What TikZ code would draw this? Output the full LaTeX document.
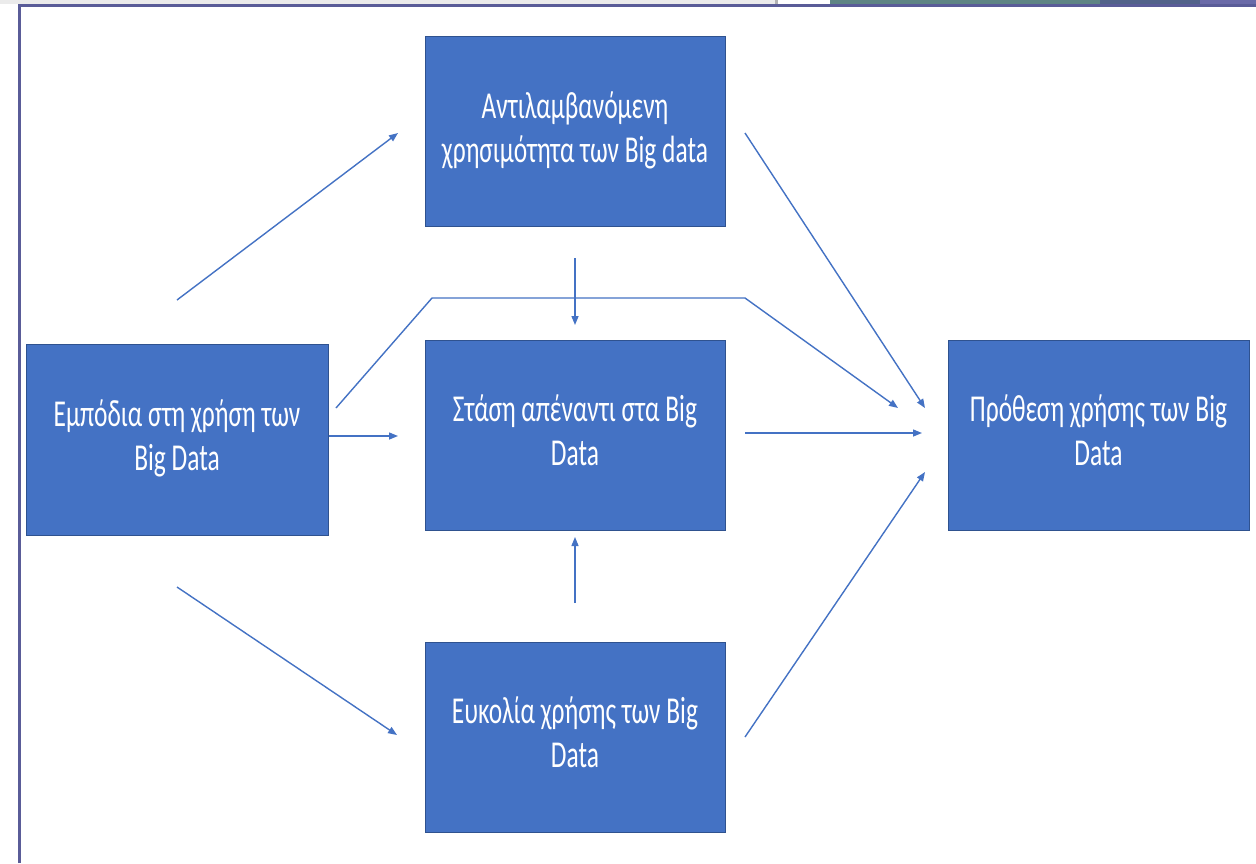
\documentclass[tikz,border=0pt]{standalone}
\usepackage{fontspec}
\setmainfont{Carlito}
\usetikzlibrary{arrows.meta}
\definecolor{boxblue}{HTML}{4472C4}
\definecolor{boxedge}{HTML}{2F528F}
\definecolor{frame}{HTML}{5A5C98}
\definecolor{stripA}{HTML}{5E8484}
\definecolor{stripB}{HTML}{52628A}
\definecolor{stripC}{HTML}{6A6AA8}
\newcommand\squeezetext[1]{\scalebox{0.67}[1]{\fontsize{38}{44}\selectfont\begin{tabular}{@{}c@{}}#1\end{tabular}}}
\begin{document}
\begin{tikzpicture}[x=1pt,y=-1pt,
  box/.style={draw=boxedge,line width=1pt,fill=boxblue,minimum width=300pt,minimum height=190pt,
    text=white,align=center,inner sep=0pt},
  conn/.style={draw=boxblue,line width=1.4pt,-{Triangle[length=9pt,width=7pt]}}]
\useasboundingbox (0,0) rectangle (1256,863);
\fill[white] (0,0) rectangle (1256,863);
% window frame remnants
\fill[black!8] (0,0) rectangle (775,4);
\fill[black!30] (775,0) rectangle (778,4);
\fill[stripA] (830,0) rectangle (1100,4);
\fill[stripB] (1100,0) rectangle (1200,4);
\fill[stripC] (1200,0) rectangle (1256,4);
\draw[frame,line width=2.5pt] (19.5,863) -- (19.5,5.5) -- (1256,5.5);
% boxes
\node[box] (pu) at (575,131.5) {\squeezetext{Αντιλαμβανόμενη\\χρησιμότητα των Big data}};
\node[box] (att) at (575,435) {\squeezetext{Στάση απέναντι στα Big\\Data}};
\node[box] (eou) at (575,737) {\squeezetext{Ευκολία χρήσης των Big\\Data}};
\node[box,minimum width=302pt,minimum height=191pt] (bar) at (177,439.5) {\squeezetext{Εμπόδια στη χρήση των\\Big Data}};
\node[box,minimum width=301pt] (int) at (1098.5,435) {\squeezetext{Πρόθεση χρήσης των Big\\Data}};
% free ends
\coordinate (a1s) at (177,300);  \coordinate (a1e) at (398,133);
\coordinate (a2s) at (177,587);  \coordinate (a2e) at (397,735);
\coordinate (a4s) at (336,408);  \coordinate (a4e) at (898,408);
\coordinate (a5s) at (575,258);  \coordinate (a5e) at (575,325);
\coordinate (a6s) at (575,603);  \coordinate (a6e) at (575,537);
\coordinate (a7s) at (745,133);  \coordinate (a7e) at (925,408);
\coordinate (a8s) at (745,433);  \coordinate (a8e) at (922,433);
\coordinate (a9s) at (745,737);  \coordinate (a9e) at (925,472);
% connectors
\draw[conn] (a1s) -- (a1e);
\draw[conn] (a2s) -- (a2e);
\draw[conn] (bar.east |- 0,436) -- (398,436);
\draw[conn] (a4s) -- (432,298) -- (745,298) -- (a4e);
\draw[conn] (a5s) -- (a5e);
\draw[conn] (a6s) -- (a6e);
\draw[conn] (a7s) -- (a7e);
\draw[conn] (a8s) -- (a8e);
\draw[conn] (a9s) -- (a9e);
\end{tikzpicture}
\end{document}
